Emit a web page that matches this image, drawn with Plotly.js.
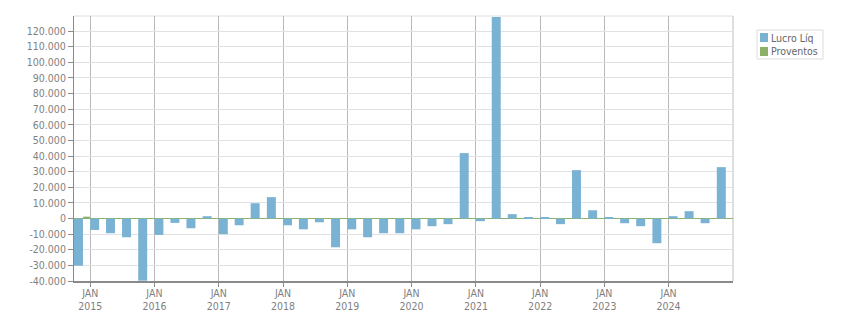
<!DOCTYPE html>
<html>
<head>
<meta charset="utf-8">
<script src="https://cdn.plot.ly/plotly-3.0.1.min.js"></script>
<style>
  html, body { margin: 0; padding: 0; background: #fff; }
  #chart { width: 851px; height: 313px; }
</style>
</head>
<body>
<div id="chart"></div>
<script>
// Quarter start dates
const quarters = [
  "2014-10-01",
  "2015-01-01", "2015-04-01", "2015-07-01", "2015-10-01",
  "2016-01-01", "2016-04-01", "2016-07-01", "2016-10-01",
  "2017-01-01", "2017-04-01", "2017-07-01", "2017-10-01",
  "2018-01-01", "2018-04-01", "2018-07-01", "2018-10-01",
  "2019-01-01", "2019-04-01", "2019-07-01", "2019-10-01",
  "2020-01-01", "2020-04-01", "2020-07-01", "2020-10-01",
  "2021-01-01", "2021-04-01", "2021-07-01", "2021-10-01",
  "2022-01-01", "2022-04-01", "2022-07-01", "2022-10-01",
  "2023-01-01", "2023-04-01", "2023-07-01", "2023-10-01",
  "2024-01-01", "2024-04-01", "2024-07-01", "2024-10-01"
];

// Lucro Líquido per quarter
const lucroLiq = [
  -30200,
  -7300, -9400, -12000, -39800,
  -10500, -2800, -6200, 1500,
  -10000, -4300, 9800, 13700,
  -4300, -6900, -2400, -18400,
  -6900, -12000, -9400, -9400,
  -6900, -4900, -3600, 41900,
  -1700, 129000, 2800, 800,
  800, -3600, 31000, 5300,
  800, -3000, -4900, -15800,
  1500, 4700, -3000, 32900
];

// Proventos per quarter
const proventos = [
  1200,
  0, 0, 0, 0,
  0, 0, 0, 0,
  0, 0, 0, 0,
  0, 0, 0, 0,
  0, 0, 0, 0,
  0, 0, 0, 0,
  0, 0, 0, 0,
  0, 0, 0, 0,
  0, 0, 0, 0,
  0, 0, 0, 0
];

// Series names and colours
const seriesNames = ["Lucro Líq", "Proventos"];
const seriesColors = ["#7ab2d4", "#8cb06a"];

// Axis ticks
const xTickVals = ["2015-01-01","2016-01-01","2017-01-01","2018-01-01","2019-01-01",
                   "2020-01-01","2021-01-01","2022-01-01","2023-01-01","2024-01-01"];
const xTickText = ["JAN<br>2015","JAN<br>2016","JAN<br>2017","JAN<br>2018","JAN<br>2019",
                   "JAN<br>2020","JAN<br>2021","JAN<br>2022","JAN<br>2023","JAN<br>2024"];
const yTickVals = [-40000,-30000,-20000,-10000,0,10000,20000,30000,40000,50000,60000,
                   70000,80000,90000,100000,110000,120000];
const yTickText = ["-40.000","-30.000","-20.000","-10.000","0","10.000","20.000","30.000",
                   "40.000","50.000","60.000","70.000","80.000","90.000","100.000",
                   "110.000","120.000"];

const DAY = 86400000;
const FONT = "DejaVu Sans Condensed, DejaVu Sans, sans-serif";

const traces = [
  {
    type: "bar",
    name: seriesNames[0],
    x: quarters,
    y: lucroLiq,
    width: 51 * DAY,
    offset: 0,
    marker: { color: seriesColors[0], line: { width: 0 } },
    hoverinfo: "x+y"
  },
  {
    type: "bar",
    name: seriesNames[1],
    x: quarters,
    y: proventos,
    width: 38 * DAY,
    offset: 52 * DAY,
    marker: { color: seriesColors[1], line: { width: 0 } },
    hoverinfo: "x+y"
  }
];

// plot area in pixels: left 74, right 733, top 16, bottom 281
const px = v => (v - 74) / 659;
const py = v => (281 - v) / 265;

const layout = {
  width: 851,
  height: 313,
  margin: { l: 74, r: 118, t: 16, b: 32, pad: 0 },
  paper_bgcolor: "#ffffff",
  plot_bgcolor: "#ffffff",
  barmode: "overlay",
  font: { family: FONT, size: 10.5, color: "#7f7f7f" },
  xaxis: {
    type: "date",
    range: ["2014-10-01", "2025-01-01"],
    tickmode: "array",
    tickvals: xTickVals,
    ticktext: xTickText,
    showgrid: true,
    gridcolor: "#b9b9b9",
    gridwidth: 1,
    zeroline: false,
    showline: true,
    linecolor: "#8a8a8a",
    linewidth: 2,
    ticks: "outside",
    ticklen: 4,
    tickcolor: "#8a8a8a",
    ticklabelstandoff: -3,
    tickfont: { family: FONT, size: 10.5, color: "#7f7f7f" },
    fixedrange: true,
    automargin: false
  },
  yaxis: {
    range: [-40000, 129700],
    tickmode: "array",
    tickvals: yTickVals,
    ticktext: yTickText,
    showgrid: true,
    gridcolor: "#e2e2e2",
    gridwidth: 1,
    zeroline: true,
    zerolinecolor: "#8db36a",
    zerolinewidth: 1,
    showline: true,
    linecolor: "#8a8a8a",
    linewidth: 1,
    ticks: "outside",
    ticklen: 5,
    tickcolor: "#8a8a8a",
    tickfont: { family: FONT, size: 10.5, color: "#7f7f7f" },
    fixedrange: true,
    automargin: false
  },
  showlegend: false,
  shapes: [
    { type: "line", xref: "paper", yref: "paper", x0: 0, x1: 1, y0: 1, y1: 1,
      line: { color: "#dedede", width: 1 }, layer: "below" },
    { type: "line", xref: "paper", yref: "paper", x0: 1, x1: 1, y0: 0, y1: 1,
      line: { color: "#dedede", width: 2 }, layer: "below" },
    // legend box
    { type: "rect", xref: "paper", yref: "paper", x0: px(757), x1: px(823), y0: py(59), y1: py(30),
      line: { color: "#dcdcdc", width: 1 }, fillcolor: "#ffffff", layer: "above" },
    // legend swatches
    { type: "rect", xref: "paper", yref: "paper", x0: px(760), x1: px(768), y0: py(42), y1: py(33),
      line: { width: 0 }, fillcolor: seriesColors[0], layer: "above" },
    { type: "rect", xref: "paper", yref: "paper", x0: px(760), x1: px(768), y0: py(56), y1: py(47),
      line: { width: 0 }, fillcolor: seriesColors[1], layer: "above" }
  ],
  annotations: [
    { xref: "paper", yref: "paper", x: px(770), y: py(37.5), xanchor: "left", yanchor: "middle",
      text: seriesNames[0], showarrow: false, borderpad: 0,
      font: { family: FONT, size: 10.5, color: "#666666" } },
    { xref: "paper", yref: "paper", x: px(770), y: py(51.5), xanchor: "left", yanchor: "middle",
      text: seriesNames[1], showarrow: false, borderpad: 0,
      font: { family: FONT, size: 10.5, color: "#666666" } }
  ]
};

Plotly.newPlot("chart", traces, layout, { displayModeBar: false, responsive: false });
</script>
</body>
</html>
